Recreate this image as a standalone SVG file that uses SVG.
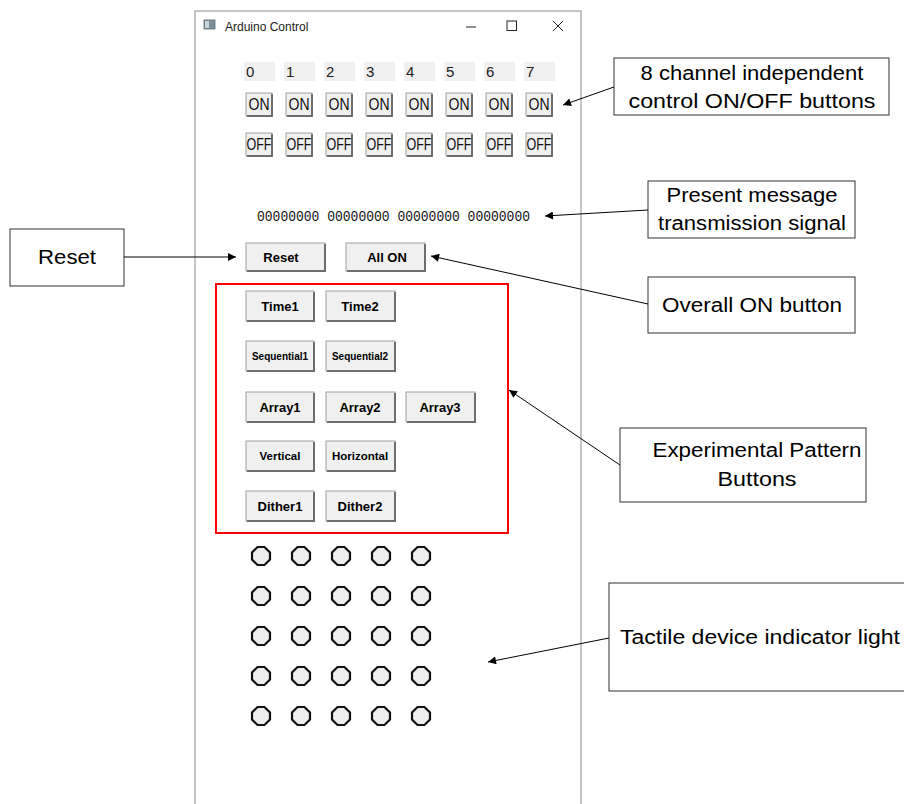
<svg xmlns="http://www.w3.org/2000/svg" xmlns:xlink="http://www.w3.org/1999/xlink" width="904" height="804" viewBox="0 0 904 804">
  <style>
    .win { fill: #ffffff; stroke: #8c8c8c; stroke-width: 1; }
    .title { font-family: "Liberation Sans", Arial, sans-serif; font-size: 12px; fill: #1a1a1a; }
    .lbl { fill: #f0f0f0; }
    .lbltxt { font-family: "Liberation Sans", Arial, sans-serif; font-size: 15px; fill: #222; }
    .btn { fill: #f0f0f0; stroke: #a0a0a0; stroke-width: 1; }
    .shade { fill: none; stroke: #6e6e6e; stroke-width: 2; }
    .chtxt { font-family: "Liberation Sans", Arial, sans-serif; font-size: 16px; fill: #111; text-anchor: middle; }
    .btxt { font-family: "Liberation Sans", Arial, sans-serif; font-weight: bold; font-size: 13px; fill: #000; text-anchor: middle; }
    .btxt-s { font-family: "Liberation Sans", Arial, sans-serif; font-weight: bold; font-size: 10px; fill: #000; text-anchor: middle; }
    .btxt-m { font-family: "Liberation Sans", Arial, sans-serif; font-weight: bold; font-size: 11.5px; fill: #000; text-anchor: middle; }
    .sig { font-family: "Liberation Mono", "DejaVu Sans Mono", monospace; font-size: 14px; fill: #111; }
    .led { fill: #eeeeee; stroke: #111; stroke-width: 2.2; }
    .callout { fill: #ffffff; stroke: #333; stroke-width: 1; }
    .ctxt { font-family: "Liberation Sans", Arial, sans-serif; font-size: 20px; fill: #000; text-anchor: middle; }
    .frame { fill: none; stroke: #ff0000; stroke-width: 2; }
    .conn { stroke: #000; stroke-width: 1; fill: none; marker-end: url(#ah); }
  </style>
  <defs>
    <marker id="ah" viewBox="0 0 10 10" refX="10" refY="5" markerWidth="10" markerHeight="8" markerUnits="userSpaceOnUse" orient="auto">
      <path d="M0,0 L10,5 L0,10 z" fill="#000"/>
    </marker>
    <polygon id="oct" class="led" points="-3.5,-9 3.5,-9 9,-3.5 9,3.5 3.5,9 -3.5,9 -9,3.5 -9,-3.5"/>
  </defs>

  <!-- application window -->
  <g id="window">
    <rect class="win" x="195" y="11" width="386" height="800"/>
    <rect x="204" y="20" width="11" height="9" fill="#7f8f99" stroke="#5a6a74" stroke-width="0.8"/>
    <rect x="205" y="21" width="4" height="7" fill="#c8d4da"/>
    <text class="title" x="225" y="31">Arduino Control</text>
    <line x1="466" y1="27" x2="476" y2="27" stroke="#222" stroke-width="1"/>
    <rect x="507" y="21" width="9.5" height="9.5" fill="none" stroke="#222" stroke-width="1"/>
    <path d="M553,21 L563,31 M563,21 L553,31" stroke="#222" stroke-width="1"/>
  </g>

  <!-- channel labels and ON/OFF buttons -->
  <g id="channels">
    <g id="ch0"><rect class="lbl" x="244" y="62" width="31" height="19"/><text class="lbltxt" x="246" y="77">0</text>
      <rect class="btn" x="246" y="93" width="26" height="23"/><path class="shade" d="M247,116 H272 V94"/><text class="chtxt" x="259" y="110" textLength="21" lengthAdjust="spacingAndGlyphs">ON</text>
      <rect class="btn" x="246" y="133" width="26" height="23"/><path class="shade" d="M247,156 H272 V134"/><text class="chtxt" x="259" y="150" textLength="25" lengthAdjust="spacingAndGlyphs">OFF</text></g>
    <g id="ch1"><rect class="lbl" x="284" y="62" width="31" height="19"/><text class="lbltxt" x="286" y="77">1</text>
      <rect class="btn" x="286" y="93" width="26" height="23"/><path class="shade" d="M287,116 H312 V94"/><text class="chtxt" x="299" y="110" textLength="21" lengthAdjust="spacingAndGlyphs">ON</text>
      <rect class="btn" x="286" y="133" width="26" height="23"/><path class="shade" d="M287,156 H312 V134"/><text class="chtxt" x="299" y="150" textLength="25" lengthAdjust="spacingAndGlyphs">OFF</text></g>
    <g id="ch2"><rect class="lbl" x="324" y="62" width="31" height="19"/><text class="lbltxt" x="326" y="77">2</text>
      <rect class="btn" x="326" y="93" width="26" height="23"/><path class="shade" d="M327,116 H352 V94"/><text class="chtxt" x="339" y="110" textLength="21" lengthAdjust="spacingAndGlyphs">ON</text>
      <rect class="btn" x="326" y="133" width="26" height="23"/><path class="shade" d="M327,156 H352 V134"/><text class="chtxt" x="339" y="150" textLength="25" lengthAdjust="spacingAndGlyphs">OFF</text></g>
    <g id="ch3"><rect class="lbl" x="364" y="62" width="31" height="19"/><text class="lbltxt" x="366" y="77">3</text>
      <rect class="btn" x="366" y="93" width="26" height="23"/><path class="shade" d="M367,116 H392 V94"/><text class="chtxt" x="379" y="110" textLength="21" lengthAdjust="spacingAndGlyphs">ON</text>
      <rect class="btn" x="366" y="133" width="26" height="23"/><path class="shade" d="M367,156 H392 V134"/><text class="chtxt" x="379" y="150" textLength="25" lengthAdjust="spacingAndGlyphs">OFF</text></g>
    <g id="ch4"><rect class="lbl" x="404" y="62" width="31" height="19"/><text class="lbltxt" x="406" y="77">4</text>
      <rect class="btn" x="406" y="93" width="26" height="23"/><path class="shade" d="M407,116 H432 V94"/><text class="chtxt" x="419" y="110" textLength="21" lengthAdjust="spacingAndGlyphs">ON</text>
      <rect class="btn" x="406" y="133" width="26" height="23"/><path class="shade" d="M407,156 H432 V134"/><text class="chtxt" x="419" y="150" textLength="25" lengthAdjust="spacingAndGlyphs">OFF</text></g>
    <g id="ch5"><rect class="lbl" x="444" y="62" width="31" height="19"/><text class="lbltxt" x="446" y="77">5</text>
      <rect class="btn" x="446" y="93" width="26" height="23"/><path class="shade" d="M447,116 H472 V94"/><text class="chtxt" x="459" y="110" textLength="21" lengthAdjust="spacingAndGlyphs">ON</text>
      <rect class="btn" x="446" y="133" width="26" height="23"/><path class="shade" d="M447,156 H472 V134"/><text class="chtxt" x="459" y="150" textLength="25" lengthAdjust="spacingAndGlyphs">OFF</text></g>
    <g id="ch6"><rect class="lbl" x="484" y="62" width="31" height="19"/><text class="lbltxt" x="486" y="77">6</text>
      <rect class="btn" x="486" y="93" width="26" height="23"/><path class="shade" d="M487,116 H512 V94"/><text class="chtxt" x="499" y="110" textLength="21" lengthAdjust="spacingAndGlyphs">ON</text>
      <rect class="btn" x="486" y="133" width="26" height="23"/><path class="shade" d="M487,156 H512 V134"/><text class="chtxt" x="499" y="150" textLength="25" lengthAdjust="spacingAndGlyphs">OFF</text></g>
    <g id="ch7"><rect class="lbl" x="524" y="62" width="31" height="19"/><text class="lbltxt" x="526" y="77">7</text>
      <rect class="btn" x="526" y="93" width="26" height="23"/><path class="shade" d="M527,116 H552 V94"/><text class="chtxt" x="539" y="110" textLength="21" lengthAdjust="spacingAndGlyphs">ON</text>
      <rect class="btn" x="526" y="133" width="26" height="23"/><path class="shade" d="M527,156 H552 V134"/><text class="chtxt" x="539" y="150" textLength="25" lengthAdjust="spacingAndGlyphs">OFF</text></g>
  </g>

  <!-- transmitted signal readout -->
  <g id="signal">
    <text class="sig" x="257" y="221" textLength="273" lengthAdjust="spacingAndGlyphs">00000000 00000000 00000000 00000000</text>
  </g>

  <!-- reset / all on -->
  <g id="btn-reset"><rect class="btn" x="246" y="243" width="79" height="28"/><path class="shade" d="M247,271 H325 V244"/><text class="btxt" x="281" y="262">Reset</text></g>
  <g id="btn-allon"><rect class="btn" x="346" y="243" width="79" height="28"/><path class="shade" d="M347,271 H425 V244"/><text class="btxt" x="387" y="262">All ON</text></g>

  <!-- pattern buttons -->
  <g id="patterns">
    <rect class="frame" x="216" y="284" width="292" height="249"/>
    <g id="btn-time1"><rect class="btn" x="246" y="291" width="68" height="30"/><path class="shade" d="M247,321 H314 V292"/><text class="btxt" x="280" y="311">Time1</text></g>
    <g id="btn-time2"><rect class="btn" x="326" y="291" width="69" height="30"/><path class="shade" d="M327,321 H395 V292"/><text class="btxt" x="360" y="311">Time2</text></g>
    <g id="btn-seq1"><rect class="btn" x="246" y="341" width="68" height="30"/><path class="shade" d="M247,371 H314 V342"/><text class="btxt-s" x="280" y="360">Sequential1</text></g>
    <g id="btn-seq2"><rect class="btn" x="326" y="341" width="69" height="30"/><path class="shade" d="M327,371 H395 V342"/><text class="btxt-s" x="360" y="360" font-size="9">Sequential2</text></g>
    <g id="btn-array1"><rect class="btn" x="246" y="392" width="68" height="30"/><path class="shade" d="M247,422 H314 V393"/><text class="btxt" x="280" y="412">Array1</text></g>
    <g id="btn-array2"><rect class="btn" x="326" y="392" width="69" height="30"/><path class="shade" d="M327,422 H395 V393"/><text class="btxt" x="360" y="412">Array2</text></g>
    <g id="btn-array3"><rect class="btn" x="406" y="392" width="69" height="30"/><path class="shade" d="M407,422 H475 V393"/><text class="btxt" x="440" y="412">Array3</text></g>
    <g id="btn-vertical"><rect class="btn" x="246" y="441" width="68" height="30"/><path class="shade" d="M247,471 H314 V442"/><text class="btxt-m" x="280" y="460">Vertical</text></g>
    <g id="btn-horizontal"><rect class="btn" x="326" y="441" width="69" height="30"/><path class="shade" d="M327,471 H395 V442"/><text class="btxt-m" x="360" y="460">Horizontal</text></g>
    <g id="btn-dither1"><rect class="btn" x="246" y="491" width="68" height="30"/><path class="shade" d="M247,521 H314 V492"/><text class="btxt" x="280" y="511">Dither1</text></g>
    <g id="btn-dither2"><rect class="btn" x="326" y="491" width="69" height="30"/><path class="shade" d="M327,521 H395 V492"/><text class="btxt" x="360" y="511">Dither2</text></g>
  </g>

  <!-- 5x5 indicator lights -->
  <g id="leds">
    <use xlink:href="#oct" x="261" y="556"/><use xlink:href="#oct" x="301" y="556"/><use xlink:href="#oct" x="341" y="556"/><use xlink:href="#oct" x="381" y="556"/><use xlink:href="#oct" x="421" y="556"/>
    <use xlink:href="#oct" x="261" y="596"/><use xlink:href="#oct" x="301" y="596"/><use xlink:href="#oct" x="341" y="596"/><use xlink:href="#oct" x="381" y="596"/><use xlink:href="#oct" x="421" y="596"/>
    <use xlink:href="#oct" x="261" y="636"/><use xlink:href="#oct" x="301" y="636"/><use xlink:href="#oct" x="341" y="636"/><use xlink:href="#oct" x="381" y="636"/><use xlink:href="#oct" x="421" y="636"/>
    <use xlink:href="#oct" x="261" y="676"/><use xlink:href="#oct" x="301" y="676"/><use xlink:href="#oct" x="341" y="676"/><use xlink:href="#oct" x="381" y="676"/><use xlink:href="#oct" x="421" y="676"/>
    <use xlink:href="#oct" x="261" y="716"/><use xlink:href="#oct" x="301" y="716"/><use xlink:href="#oct" x="341" y="716"/><use xlink:href="#oct" x="381" y="716"/><use xlink:href="#oct" x="421" y="716"/>
  </g>

  <!-- callout boxes -->
  <g id="note-channels"><rect class="callout" x="614" y="58" width="275" height="57"/>
    <text class="ctxt" x="752" y="80" textLength="223" lengthAdjust="spacingAndGlyphs">8 channel independent</text>
    <text class="ctxt" x="752" y="108" textLength="247" lengthAdjust="spacingAndGlyphs">control ON/OFF buttons</text></g>
  <g id="note-signal"><rect class="callout" x="648" y="181" width="207" height="57"/>
    <text class="ctxt" x="752" y="202" textLength="171" lengthAdjust="spacingAndGlyphs">Present message</text>
    <text class="ctxt" x="752" y="230" textLength="188" lengthAdjust="spacingAndGlyphs">transmission signal</text></g>
  <g id="note-reset"><rect class="callout" x="10" y="229" width="114" height="57"/>
    <text class="ctxt" x="67" y="264" textLength="58" lengthAdjust="spacingAndGlyphs">Reset</text></g>
  <g id="note-allon"><rect class="callout" x="648" y="277" width="207" height="56"/>
    <text class="ctxt" x="752" y="312" textLength="180" lengthAdjust="spacingAndGlyphs">Overall ON button</text></g>
  <g id="note-patterns"><rect class="callout" x="620" y="428" width="246" height="74"/>
    <text class="ctxt" x="757" y="457" textLength="209" lengthAdjust="spacingAndGlyphs">Experimental Pattern</text>
    <text class="ctxt" x="757" y="486" textLength="79" lengthAdjust="spacingAndGlyphs">Buttons</text></g>
  <g id="note-leds"><rect class="callout" x="609" y="583" width="300" height="108"/>
    <text class="ctxt" x="760" y="644" textLength="280" lengthAdjust="spacingAndGlyphs">Tactile device indicator light</text></g>

  <!-- connectors -->
  <g id="connectors">
    <line class="conn" x1="614" y1="87" x2="563" y2="105"/>
    <line class="conn" x1="648" y1="210" x2="545" y2="216"/>
    <line class="conn" x1="124" y1="257" x2="236" y2="257"/>
    <line class="conn" x1="648" y1="304" x2="431" y2="256"/>
    <line class="conn" x1="620" y1="465" x2="509" y2="390"/>
    <line class="conn" x1="609" y1="638" x2="488" y2="662"/>
  </g>
</svg>
